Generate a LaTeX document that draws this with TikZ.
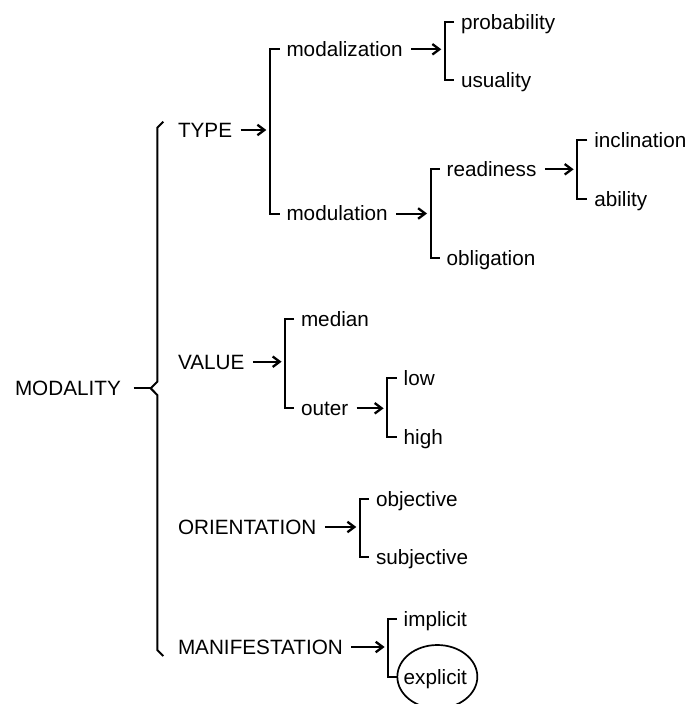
\documentclass[tikz,border=0pt]{standalone}
\usepackage{fontspec}
\setmainfont{Liberation Sans}
\usetikzlibrary{arrows.meta}
\begin{document}
\begin{tikzpicture}[x=1pt,y=-1pt,
  line width=2pt,
  txt/.style={anchor=west,inner sep=0pt,text height=19.1pt,text depth=4.3pt,
    font=\fontsize{20.7}{24}\selectfont},
  arr/.style={-{Straight Barb[length=7pt,width=10.5pt,line width=2.3pt]}},
  fork/.style={line cap=butt,line join=miter}]
\useasboundingbox (0,0) rectangle (687,704);

% ---- labels ----
\node[txt] (modality) at (14,388.3) {MODALITY};

\node[txt] (type)   at (177,130)   {TYPE};
\node[txt] (value)  at (177,361.7) {VALUE};
\node[txt] (orient) at (177,527)   {ORIENTATION};
\node[txt] (manif)  at (177,647)   {MANIFESTATION};

\node[txt] (mdz) at (285.5,49.3)  {modalization};
\node[txt] (mdl) at (285.5,213.5) {modulation};
\node[txt] (prob) at (460,21.7) {probability};
\node[txt] (usu)  at (460,80)   {usuality};
\node[txt] (rdy) at (445.7,169.3) {readiness};
\node[txt] (obl) at (445.7,258.3) {obligation};
\node[txt] (incl) at (593.3,140) {inclination};
\node[txt] (abl)  at (593.3,199) {ability};

\node[txt] (med) at (300,319)   {median};
\node[txt] (out) at (300,408.3) {outer};
\node[txt] (low)  at (402.7,378.3) {low};
\node[txt] (high) at (402.7,437.3) {high};

\node[txt] (obj)  at (375,499)   {objective};
\node[txt] (subj) at (375,557.3) {subjective};

\node[txt] (impl) at (402.7,619)   {implicit};
\node[txt] (expl) at (402.7,676.7) {explicit};
\draw[line width=1.7pt] ([xshift=2pt]expl.center) ellipse [x radius=40, y radius=31.7];

% ---- the main brace ----
\coordinate (cusp) at (150.7,388.3);
\draw[fork] (163.3,121.7) -- (157.3,127.7) -- (157.3,381.7) -- (cusp)
  -- (157.3,395) -- (157.3,650) -- (163.3,656);
\draw ([xshift=11.7pt]modality.east) -- (cusp);

% ---- bracket positions (x of the bar, y of the incoming arrow) ----
\coordinate (bType) at (270,130);
\coordinate (bMdz)  at (445,49.3);
\coordinate (bMdl)  at (430.7,213.5);
\coordinate (bRdy)  at (577.3,169.3);
\coordinate (bVal)  at (285.3,361.7);
\coordinate (bOut)  at (387.3,408.3);
\coordinate (bOri)  at (360,527);
\coordinate (bMan)  at (388.3,647);

% ---- brackets: parent arrow and bar joining the two children ----
\foreach \pn/\bn/\un/\dn in {type/bType/mdz/mdl, mdz/bMdz/prob/usu,
    mdl/bMdl/rdy/obl, rdy/bRdy/incl/abl, value/bVal/med/out,
    out/bOut/low/high, orient/bOri/obj/subj, manif/bMan/impl/expl}{
  \draw[arr] ([xshift=7.5pt]\pn.east) -- ([xshift=-3.7pt]\bn);
  \draw[fork] ([xshift=-6pt]\un.west) -- (\un.west -| \bn)
    -- (\dn.west -| \bn) -- ([xshift=-6pt]\dn.west);
}
\end{tikzpicture}
\end{document}
